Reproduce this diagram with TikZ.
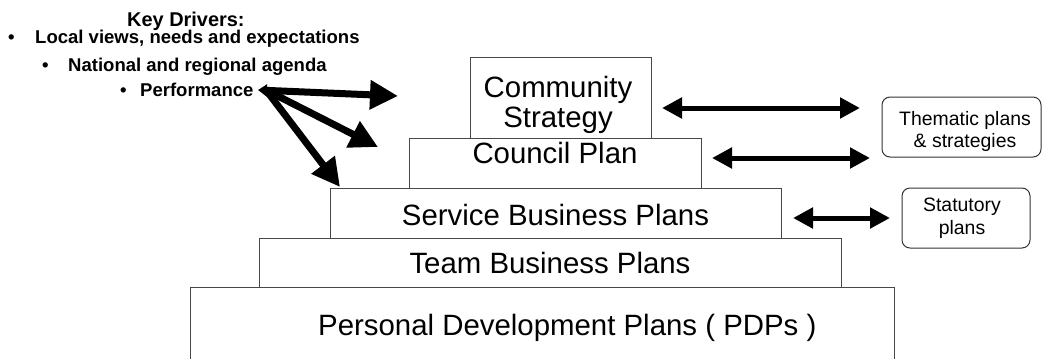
\documentclass[tikz,border=0pt]{standalone}
\usepackage{fontspec}
\setmainfont{Liberation Sans}
\usetikzlibrary{arrows.meta}
\begin{document}
\begin{tikzpicture}[x=1bp,y=-1bp,
  tier/.style={draw=black!72, line width=1bp, inner sep=0pt},
  side/.style={draw=black!80, line width=1bp, rounded corners=8bp, inner sep=0pt},
  tiertext/.style={font=\fontsize{29.5}{31}\selectfont, inner sep=0pt, anchor=base},
  sidetext/.style={font=\fontsize{19.5}{23}\selectfont, inner sep=0pt, align=center},
  drvtext/.style={font=\bfseries\fontsize{18.6}{22}\selectfont, inner sep=0pt, anchor=base west},
  link/.style={line width=5bp, {Triangle[length=20bp,width=20bp]}-{Triangle[length=20bp,width=20bp]}},
  drive/.style={line width=7bp, -{Triangle[length=28bp,width=28bp]}},
]
\useasboundingbox (0,0) rectangle (1043,358);
\clip (0,0) rectangle (1043,358);

% pyramid tiers
\node[tier, minimum width=703bp, minimum height=75bp] (pdp) at (542.5,324.8) {};
\node[tier, minimum width=581.7bp, minimum height=49.3bp] (tb) at (550.15,262.65) {};
\node[tier, minimum width=450.3bp, minimum height=49.7bp] (sb) at (555.85,213.15) {};
\node[tier, minimum width=292bp, minimum height=50bp] (cp) at (555,163.3) {};
\node[tier, minimum width=180.5bp, minimum height=80.8bp] (cs) at (560.75,97.9) {};

\node[tiertext, align=center, anchor=center] (cst) at (558,104.9) {Community\\Strategy};
\node[tiertext] (cpt) at (555,163) {Council Plan};
\node[tiertext] (sbt) at (555.5,225) {Service Business Plans};
\node[tiertext] (tbt) at (550,273) {Team Business Plans};
\node[tiertext, anchor=base west] (pdpt) at (318,335) {Personal Development Plans ( PDPs )};

% side boxes
\node[side, minimum width=159bp, minimum height=60bp] (th) at (961.5,127) {};
\node[sidetext] (tht) at (965,131.5) {Thematic plans\\\& strategies};
\node[side, minimum width=128bp, minimum height=60bp] (st) at (966,218) {};
\node[sidetext] (stt) at (962,218.5) {Statutory\\plans};

% key drivers
\node[drvtext, font=\bfseries\fontsize{20}{22}\selectfont] (kd) at (127,26) {Key Drivers:};
\node[drvtext] (d1) at (8,43) {\makebox[27bp][l]{•}Local views, needs and expectations};
\node[drvtext] (d2) at (42,71) {\makebox[26bp][l]{•}National and regional agenda};
\node[drvtext] (d3) at (120,96) {\makebox[20bp][l]{•}Performance};

% connectors
\coordinate (src0) at (258,90);
\coordinate (src) at (266,90);
\coordinate (t1) at (398,96);
\coordinate (t2) at (378,147);
\coordinate (t3) at (340,187);
\draw[line width=7bp, {Triangle[length=9bp,width=12bp]}-{Triangle[length=28bp,width=28bp]}] (src0) -- (t1);
\draw[drive] (src) -- (t2);
\draw[drive] (src) -- (t3);

\coordinate (a1) at (662,108);
\coordinate (b1) at (860,108);
\coordinate (a2) at (712,158);
\coordinate (b2) at (870,158);
\coordinate (a3) at (793,218);
\coordinate (b3) at (890,218);
\draw[link] (a1) -- (b1);
\draw[link] (a2) -- (b2);
\draw[link] (a3) -- (b3);
\end{tikzpicture}
\end{document}
